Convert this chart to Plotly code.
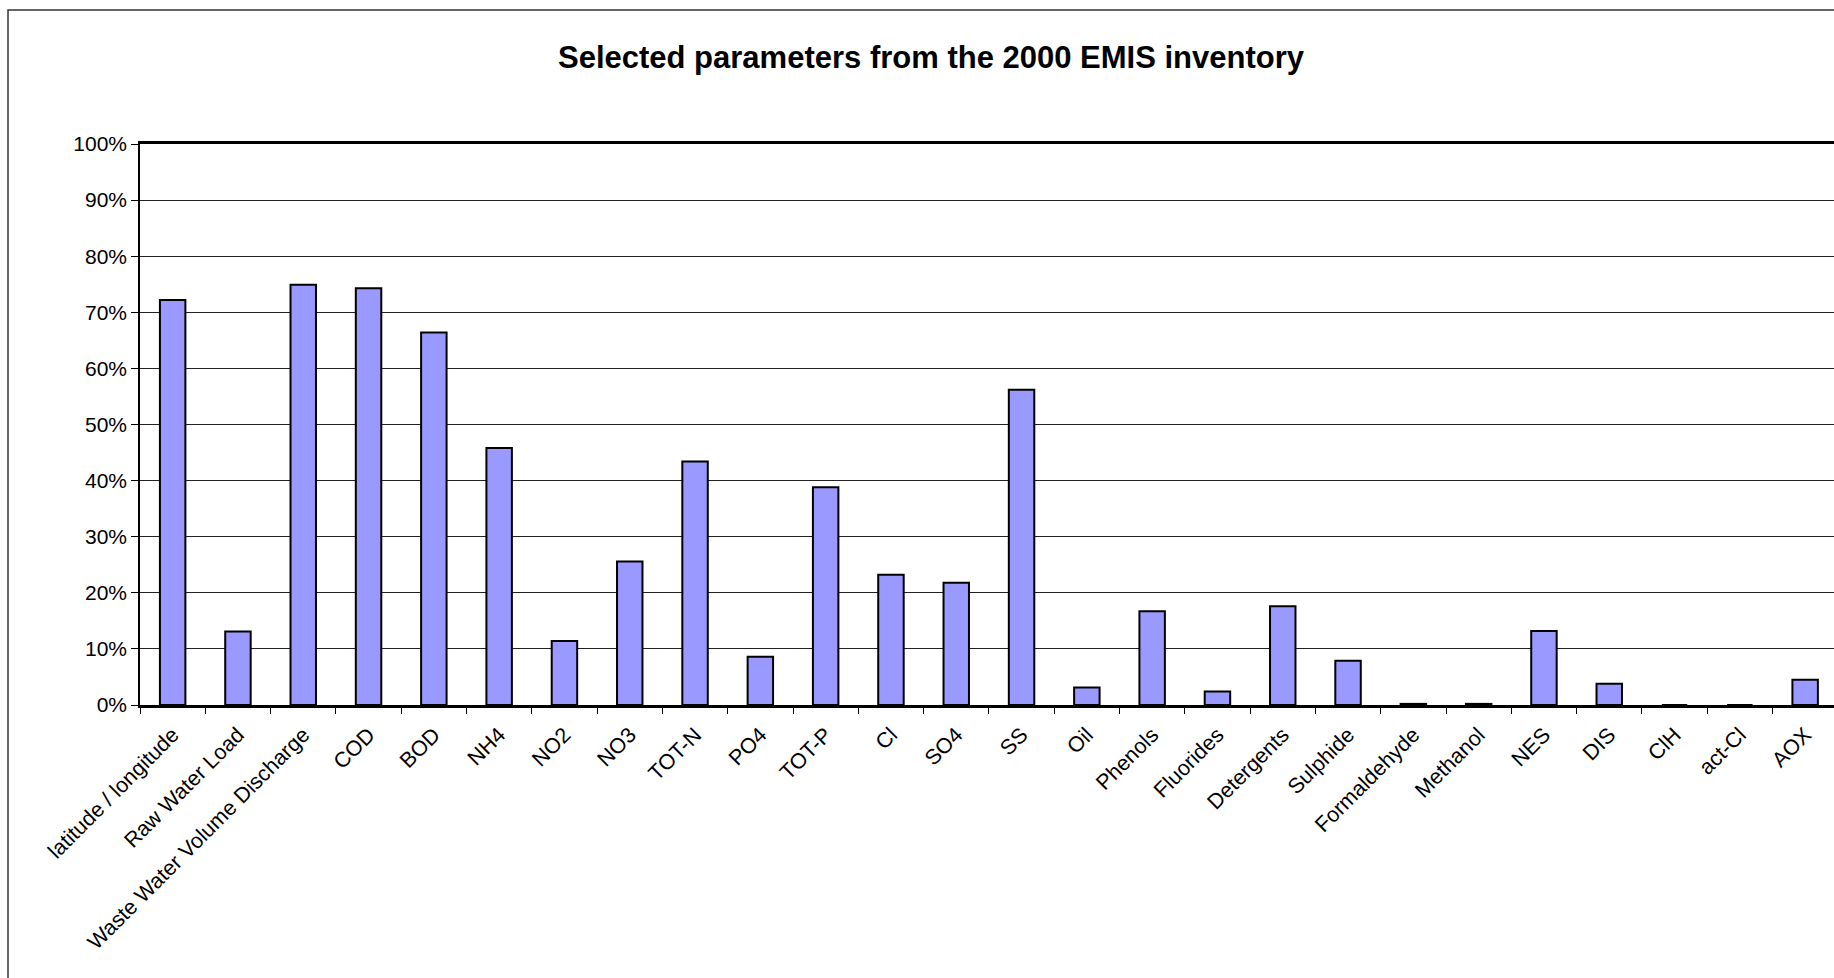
import plotly.graph_objects as go

categories = ["latitude / longitude", "Raw Water Load", "Waste Water Volume Discharge", "COD", "BOD",
              "NH4", "NO2", "NO3", "TOT-N", "PO4", "TOT-P", "Cl", "SO4", "SS", "Oil", "Phenols",
              "Fluorides", "Detergents", "Sulphide", "Formaldehyde", "Methanol", "NES", "DIS",
              "ClH", "act-Cl", "AOX"]
values = [0.722, 0.131, 0.749, 0.743, 0.664,
          0.458, 0.114, 0.256, 0.434, 0.086, 0.388, 0.232, 0.218, 0.562, 0.031, 0.167,
          0.024, 0.176, 0.079, 0.002, 0.002, 0.132, 0.038,
          0.0, 0.0, 0.045]
y_ticks = [0, 0.1, 0.2, 0.3, 0.4, 0.5, 0.6, 0.7, 0.8, 0.9, 1.0]
title_text = "Selected parameters from the 2000 EMIS inventory"

W, H = 1834, 978
ML, MR, MT, MB = 140, 0, 144, 273
cat_px = 65.3
plot_w = W - ML - MR
plot_h = H - MT - MB
x_max = -0.5 + plot_w / cat_px

font_family = "Liberation Sans, Arial, sans-serif"

fig = go.Figure()
fig.add_trace(go.Bar(
    x=categories, y=values,
    marker=dict(color="#9999FF", line=dict(color="black", width=2)),
    showlegend=False,
))

# outer chart border (left and top edges visible; the rest is outside the view)
def px_to_paper_x(px):
    return (px - ML) / plot_w

def px_to_paper_y(py):
    return (H - MB - py) / plot_h

fig.add_shape(type="rect", xref="paper", yref="paper",
              x0=px_to_paper_x(8), x1=px_to_paper_x(W + 20),
              y0=px_to_paper_y(H + 20), y1=px_to_paper_y(10),
              line=dict(color="#333333", width=1.5), fillcolor="rgba(0,0,0,0)", layer="below")

fig.update_layout(
    template="none",
    width=W, height=H,
    margin=dict(l=ML, r=MR, t=MT, b=MB, autoexpand=False),
    paper_bgcolor="white", plot_bgcolor="white",
    font=dict(family=font_family, color="black", size=21),
    title=dict(text="<b>" + title_text + "</b>", xref="container", yref="container",
               x=931 / W, y=1 - 57 / H, xanchor="center", yanchor="middle",
               font=dict(size=31, family=font_family, color="black")),
    bargap=0.61,
    xaxis=dict(
        type="category", range=[-0.5, x_max], automargin=False,
        showline=True, linecolor="black", linewidth=2.5, mirror=True,
        ticks="outside", tickson="boundaries", ticklen=6, tickcolor="black", tickwidth=1,
        tickangle=-45, ticklabelstandoff=6,
        tickfont=dict(size=21.5, family=font_family, color="black"),
        showgrid=False, zeroline=False,
    ),
    yaxis=dict(
        range=[0, 1], automargin=False,
        tickvals=y_ticks, tickformat=".0%",
        showline=True, linecolor="black", linewidth=1.5, mirror=True,
        ticks="outside", ticklen=7, tickcolor="black", tickwidth=1,
        tickfont=dict(size=21, family=font_family, color="black"),
        showgrid=True, gridcolor="#222222", gridwidth=1, zeroline=False,
    ),
)

fig.write_html("out.html")
